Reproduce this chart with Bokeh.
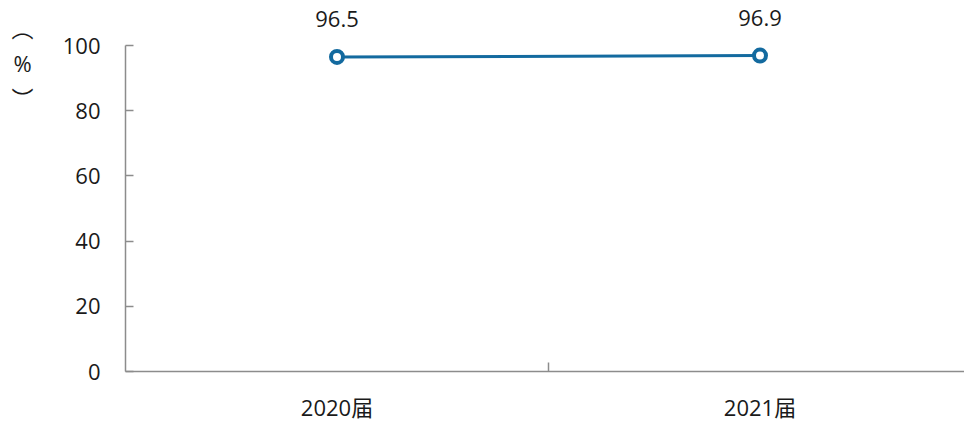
from bokeh.plotting import figure
from bokeh.models import Range1d, FixedTicker, ColumnDataSource, LabelSet, Label
from bokeh.core.properties import value
from bokeh.embed import file_html
from bokeh.resources import INLINE

categories = ["2020届", "2021届"]
values = [96.5, 96.9]
value_labels = ["96.5", "96.9"]
y_ticks = [0, 20, 40, 60, 80, 100]
unit_parts = ["︵", "%", "︶"]   # "（%）" written vertically

LINE_COLOR = "#136A9F"
AXIS_COLOR = "#8C8C8C"
TEXT_COLOR = "#1A1A1A"
FONT = "'Open Sans', 'Noto Sans CJK SC'"
FS = "22px"

xs = [i + 0.5 for i in range(len(categories))]
src = ColumnDataSource(dict(x=xs, y=values, lab=value_labels))

W, H = 964, 420
PX_X = 423.0   # pixels per category step
PX_Y = 3.26    # pixels per percent
X0, Y0 = 125, 371  # screen position of the axes origin
x_start = -X0 / PX_X
x_end = (W - X0) / PX_X
y_start = -(H - Y0) / PX_Y
y_end = 100 + (Y0 - 100 * PX_Y) / PX_Y

p = figure(width=W, height=H, output_backend="svg", toolbar_location=None,
           x_range=Range1d(x_start, x_end), y_range=Range1d(y_start, y_end),
           min_border=0, min_border_left=0, min_border_right=0,
           min_border_top=0, min_border_bottom=0)
p.outline_line_color = None
p.grid.visible = False
p.background_fill_color = "white"
p.border_fill_color = "white"

# y axis
ya = p.yaxis[0]
ya.fixed_location = 0
ya.bounds = (0, 100)
ya.ticker = FixedTicker(ticks=y_ticks)
ya.major_tick_in = 8
ya.major_tick_out = 0
ya.minor_tick_line_color = None
ya.axis_line_color = AXIS_COLOR
ya.axis_line_width = 1.5
ya.major_tick_line_color = AXIS_COLOR
ya.major_tick_line_width = 1.5
ya.major_label_text_font = FONT
ya.major_label_text_font_size = FS
ya.major_label_text_color = TEXT_COLOR
ya.major_label_standoff = 25

# x axis
xa = p.xaxis[0]
xa.fixed_location = 0
xa.bounds = (0, x_end)
xa.ticker = FixedTicker(ticks=xs, minor_ticks=[1.0])
xa.major_label_overrides = {x: c for x, c in zip(xs, categories)}
xa.major_tick_line_color = None
xa.minor_tick_in = 9
xa.minor_tick_out = 0
xa.minor_tick_line_color = AXIS_COLOR
xa.minor_tick_line_width = 1.5
xa.axis_line_color = AXIS_COLOR
xa.axis_line_width = 1.5
xa.major_label_text_font = FONT
xa.major_label_text_font_size = FS
xa.major_label_text_color = TEXT_COLOR
xa.major_label_standoff = 14

p.line("x", "y", source=src, line_color=LINE_COLOR, line_width=3)
p.scatter("x", "y", source=src, size=12, fill_color="white", line_color=LINE_COLOR, line_width=4)

labels = LabelSet(x="x", y="y", text="lab", source=src, y_offset=38,
                  text_align="center", text_baseline="middle",
                  text_font=value(FONT), text_font_size=value(FS), text_color=TEXT_COLOR)
p.add_layout(labels)

# vertical y-axis unit label
ux = (22 - X0) / PX_X
for part, py in zip(unit_parts, [27, 62, 97]):
    p.add_layout(Label(x=ux, y=(Y0 - py) / PX_Y, text=part,
                       text_align="center", text_baseline="middle",
                       text_font=FONT, text_font_size=FS, text_color=TEXT_COLOR))

open("out.html", "w").write(file_html(p, INLINE))
